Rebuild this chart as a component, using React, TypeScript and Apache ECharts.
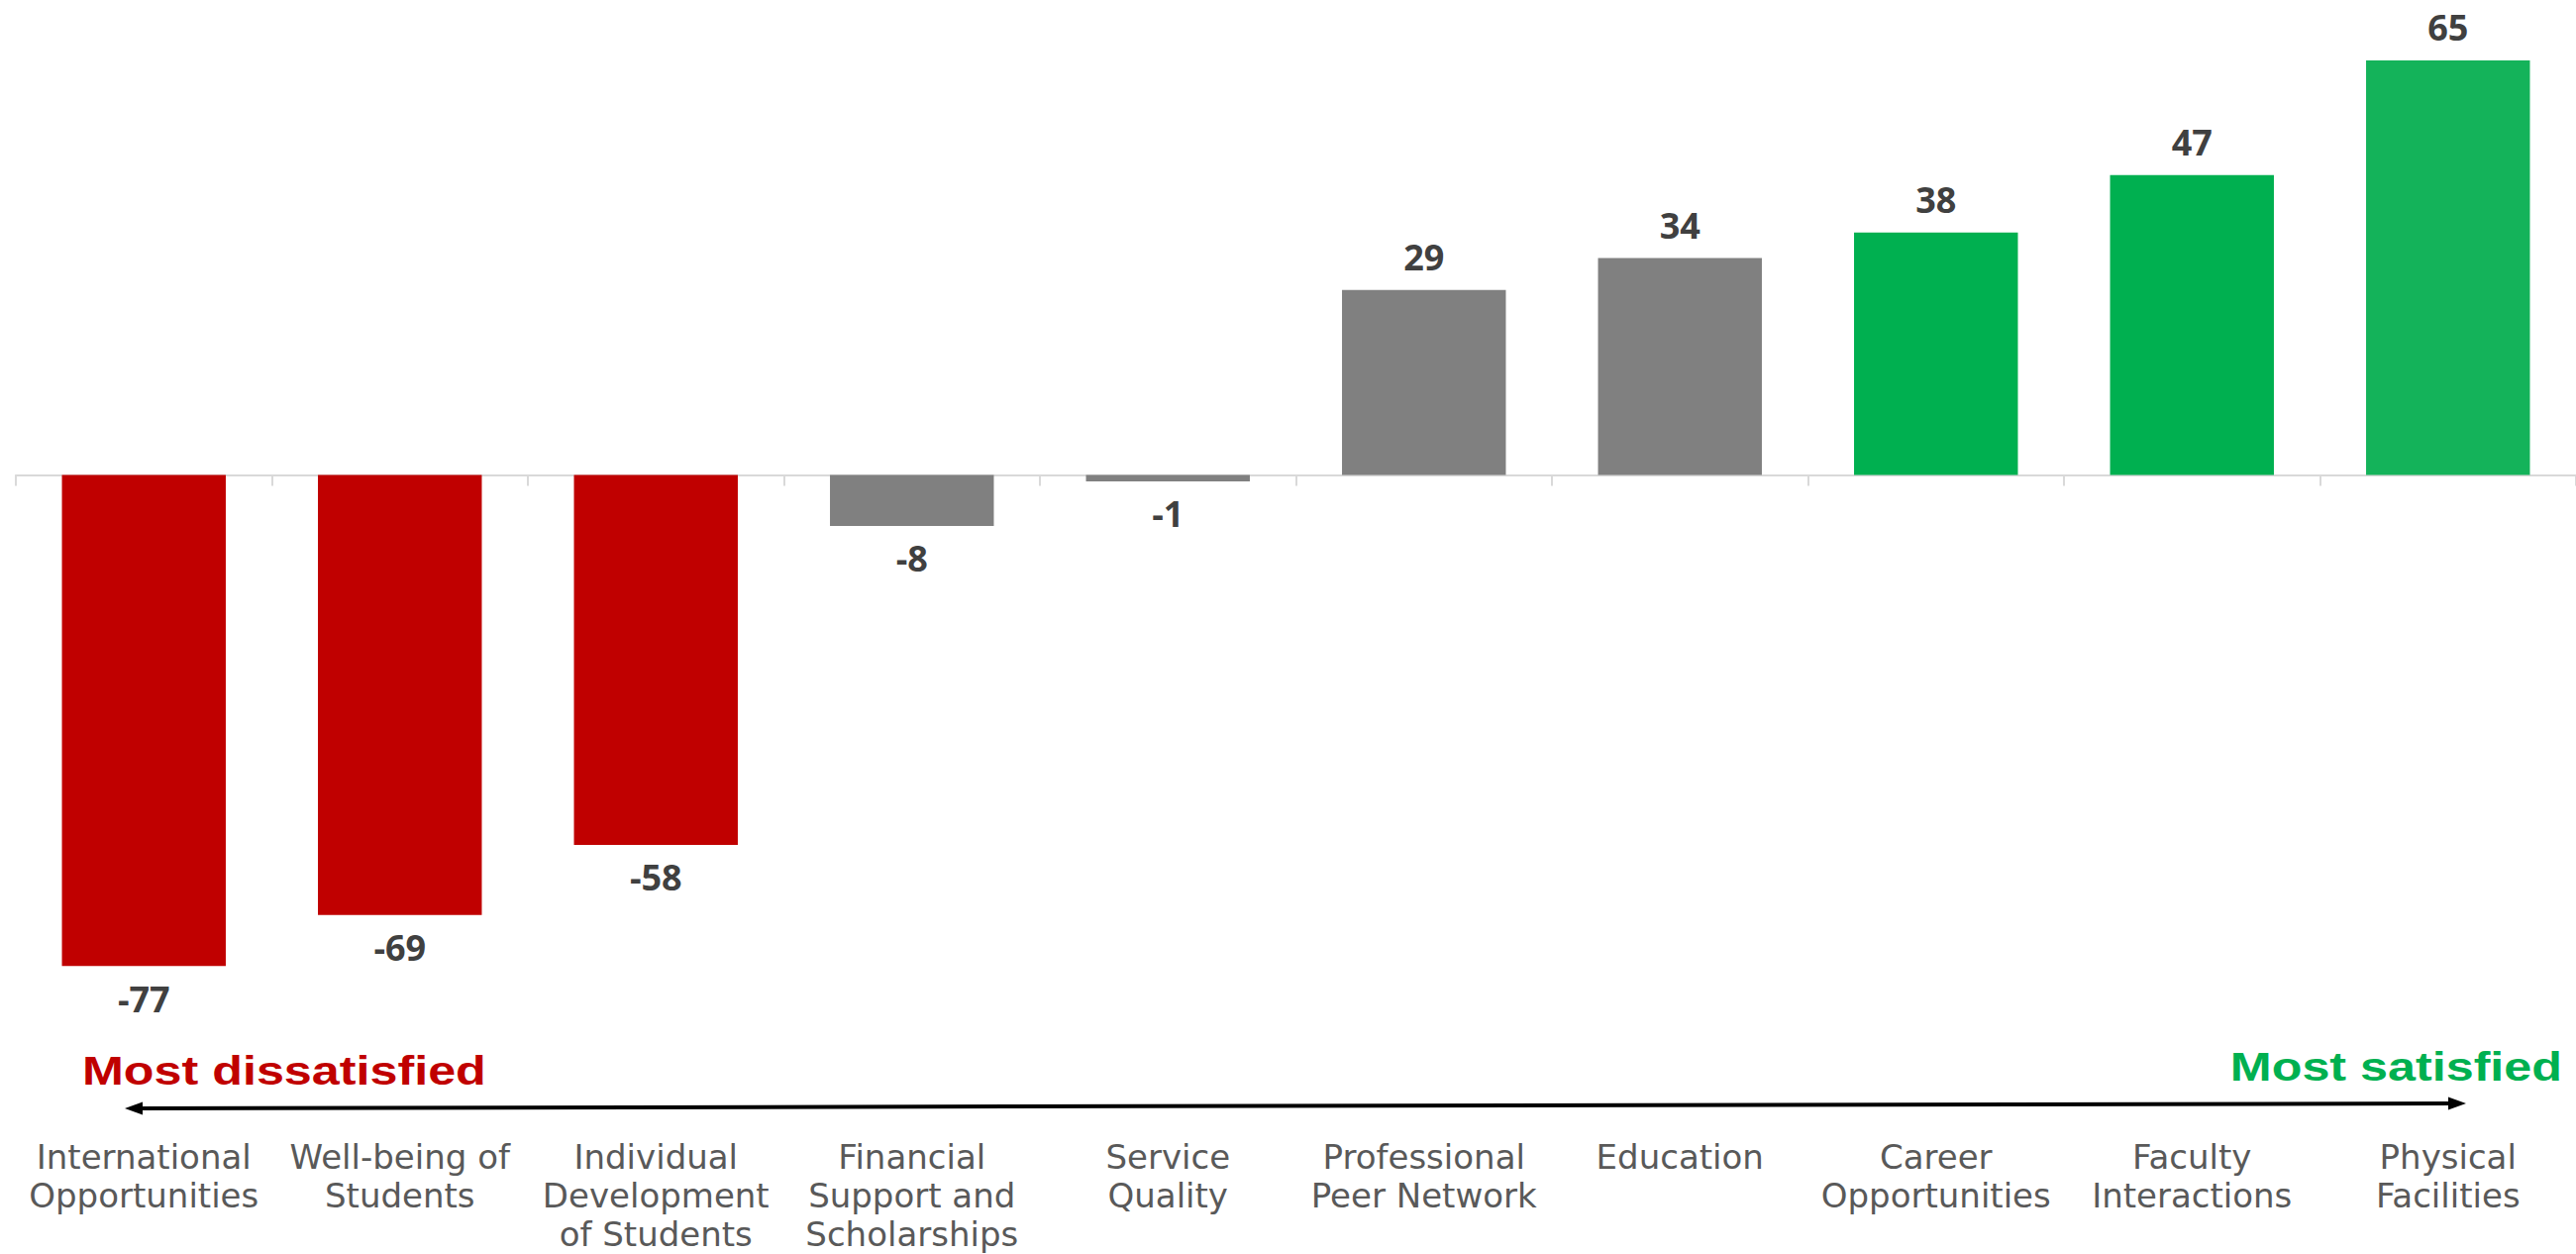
import React, { useEffect, useRef } from "react";
import * as echarts from "echarts";

const categories = [
  "International\nOpportunities",
  "Well-being of\nStudents",
  "Individual\nDevelopment\nof Students",
  "Financial\nSupport and\nScholarships",
  "Service\nQuality",
  "Professional\nPeer Network",
  "Education",
  "Career\nOpportunities",
  "Faculty\nInteractions",
  "Physical\nFacilities",
];

const values = [-77, -69, -58, -8, -1, 29, 34, 38, 47, 65];

const barColors = [
  "#C00000",
  "#C00000",
  "#C00000",
  "#808080",
  "#808080",
  "#808080",
  "#808080",
  "#00B050",
  "#00B050",
  "#14B35A",
];

const leftNote = "Most dissatisfied";
const rightNote = "Most satisfied";

export default function App() {
  const ref = useRef<HTMLDivElement>(null);

  useEffect(() => {
    if (!ref.current) return;
    const chart = echarts.init(ref.current, null, { renderer: "svg" });

    const data = values.map((v, i) => ({
      value: v,
      itemStyle: { color: barColors[i] },
      label: { position: v >= 0 ? "top" : "bottom" },
    }));

    chart.setOption({
      animation: false,
      backgroundColor: "#ffffff",
      grid: {
        left: 16,
        right: 0,
        top: 3,
        height: 991.6,
        containLabel: false,
        outerBoundsMode: "none",
      },
      xAxis: [
        {
          type: "category",
          data: categories,
          axisLine: { show: true, onZero: true, lineStyle: { color: "#d9d9d9", width: 2 } },
          axisTick: { show: true, alignWithLabel: false, length: 11, lineStyle: { color: "#d9d9d9", width: 2 } },
          axisLabel: { show: false },
          splitLine: { show: false },
        },
        {
          type: "category",
          data: categories,
          position: "bottom",
          axisLine: { show: false, onZero: false },
          axisTick: { show: false },
          axisLabel: {
            interval: 0,
            margin: 154,
            color: "#595959",
            fontFamily: "DejaVu Sans",
            fontSize: 34,
            lineHeight: 39,
          },
          splitLine: { show: false },
        },
      ],
      yAxis: {
        type: "value",
        min: -80,
        max: 74,
        show: false,
        splitLine: { show: false },
      },
      series: [
        {
          type: "bar",
          xAxisIndex: 0,
          data,
          barWidth: "64%",
          label: {
            show: true,
            distance: 15,
            color: "#404040",
            fontFamily: "Open Sans",
            fontWeight: "bold",
            fontSize: 36,
          },
        },
      ],
      graphic: [
        {
          type: "line",
          shape: { x1: 138, y1: 1119, x2: 2478, y2: 1114 },
          style: { stroke: "#000000", lineWidth: 4 },
        },
        {
          type: "polygon",
          shape: { points: [[126, 1119], [144, 1112.5], [144, 1125.5]] },
          style: { fill: "#000000" },
        },
        {
          type: "polygon",
          shape: { points: [[2490, 1114], [2472, 1107.5], [2472, 1120.5]] },
          style: { fill: "#000000" },
        },
        {
          type: "text",
          x: 83,
          y: 1081,
          scaleX: 1.257,
          originX: 0,
          originY: 0,
          style: {
            text: leftNote,
            fill: "#C00000",
            font: "bold 40px 'Liberation Sans', Arial, sans-serif",
            align: "left",
            verticalAlign: "middle",
          },
        },
        {
          type: "text",
          x: 2587,
          y: 1077,
          scaleX: 1.257,
          originX: 0,
          originY: 0,
          style: {
            text: rightNote,
            fill: "#00B050",
            font: "bold 40px 'Liberation Sans', Arial, sans-serif",
            align: "right",
            verticalAlign: "middle",
          },
        },
      ],
    });

    return () => chart.dispose();
  }, []);

  return (
    <div
      ref={ref}
      style={{ position: "fixed", left: 0, top: 0, width: 2601, height: 1266, background: "#fff" }}
    />
  );
}
